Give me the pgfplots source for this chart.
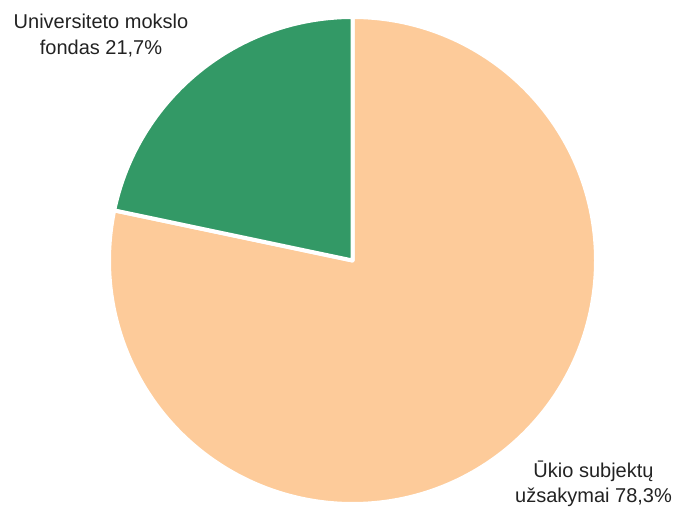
\documentclass[border=0pt]{standalone}
\usepackage{pgfplots}
\pgfplotsset{compat=1.18}
\usepackage{fontspec}
\setmainfont{Liberation Sans}
\definecolor{piePeach}{HTML}{FDCB9A}
\definecolor{pieGreen}{HTML}{339966}
\definecolor{txt}{HTML}{222222}
\begin{document}
\begin{tikzpicture}
\useasboundingbox (0,0) rectangle (678pt,509pt);
\begin{axis}[hide axis, scale only axis, width=678pt, height=509pt,
  xmin=0, xmax=678, ymin=0, ymax=509, clip=false]
% pie values (percent)
\def\valA{21.7}% Universiteto mokslo fondas
\def\valB{78.3}% Ukio subjektu uzsakymai
\pgfmathsetmacro\angA{90+3.6*\valA}
\pgfmathsetmacro\angB{90-3.6*\valB}
\filldraw[fill=piePeach, draw=white, line width=4pt, line join=round]
  (axis cs:352.5,248.5) -- (axis cs:352.5,492) arc[start angle=90, end angle=\angB, radius=243.5pt] -- cycle;
\filldraw[fill=pieGreen, draw=white, line width=4pt, line join=round]
  (axis cs:352.5,248.5) -- (axis cs:352.5,492) arc[start angle=90, end angle=\angA, radius=243.5pt] -- cycle;
\node[anchor=base, text=txt, font=\fontsize{20}{24}\selectfont] at (axis cs:101,480) {Universiteto mokslo};
\node[anchor=base, text=txt, font=\fontsize{20}{24}\selectfont] at (axis cs:101,454) {fondas 21,7\%};
\node[anchor=base, text=txt, font=\fontsize{20}{24}\selectfont] at (axis cs:593.5,31) {Ūkio subjektų};
\node[anchor=base, text=txt, font=\fontsize{20}{24}\selectfont] at (axis cs:593.5,6) {užsakymai 78,3\%};
\end{axis}
\end{tikzpicture}
\end{document}
